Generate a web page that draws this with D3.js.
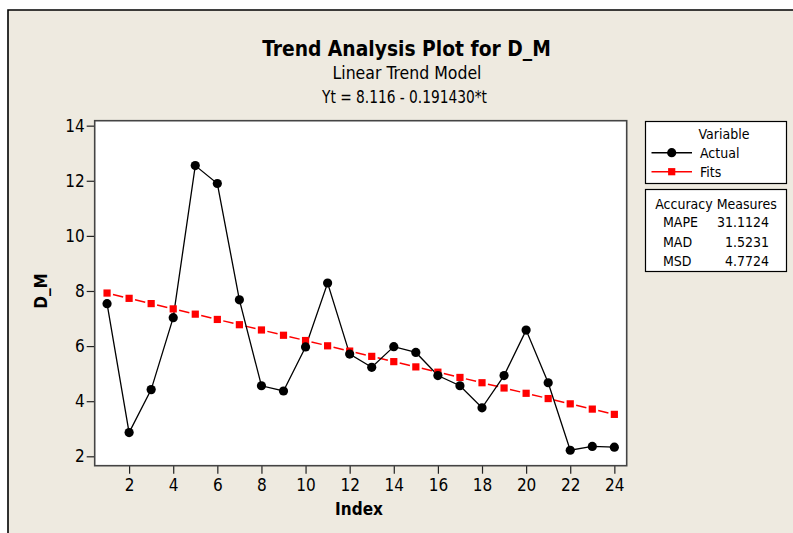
<!DOCTYPE html>
<html>
<head>
<meta charset="utf-8">
<script src="https://cdn.jsdelivr.net/npm/d3@7"></script>
<style>
html,body{margin:0;padding:0;background:#fff;}
svg{display:block;}
text{font-family:"DejaVu Sans Condensed","DejaVu Sans",sans-serif;fill:#000;}
</style>
</head>
<body>
<svg id="chart" width="793" height="533"></svg>
<script>
const indexValues = [1,2,3,4,5,6,7,8,9,10,11,12,13,14,15,16,17,18,19,20,21,22,23,24];
const actualValues = [7.54,2.86,4.42,7.03,12.55,11.9,7.68,4.56,4.37,5.97,8.29,5.71,5.23,5.98,5.77,4.93,4.56,3.76,4.93,6.58,4.67,2.22,2.36,2.33];
const fitsValues = [7.925,7.733,7.542,7.350,7.159,6.967,6.776,6.585,6.393,6.202,6.010,5.819,5.627,5.436,5.245,5.053,4.862,4.670,4.479,4.287,4.096,3.904,3.713,3.522];
const xTickValues = [2,4,6,8,10,12,14,16,18,20,22,24];
const yTickValues = [2,4,6,8,10,12,14];
const seriesNames = ["Actual","Fits"];
const measureNames = ["MAPE","MAD","MSD"];
const measureValues = ["31.1124","1.5231","4.7724"];
const titleText = "Trend Analysis Plot for D_M";
const subtitleText = "Linear Trend Model";
const equationText = "Yt = 8.116 - 0.191430*t";

const svg = d3.select("#chart");
const W = 793, H = 533;
const bg = "#EEEAE0";

// outer background and frame
svg.append("rect").attr("x",0).attr("y",0).attr("width",W).attr("height",H).attr("fill","#fff");
svg.append("rect").attr("x",8).attr("y",10).attr("width",W-8).attr("height",H-10).attr("fill",bg);
svg.append("path").attr("d",`M8,${H} V10 H${W}`).attr("fill","none").attr("stroke","#000").attr("stroke-width",1.6);

const L = 94.7, T = 120.7, R = 626.7, B = 465.7;
const x = d3.scaleLinear().domain([0.44, 24.56]).range([L, R]);
const y = d3.scaleLinear().domain([1.659, 14.18]).range([B, T]);

svg.append("rect").attr("x",L).attr("y",T).attr("width",R-L).attr("height",B-T).attr("fill","#fff");

// axes
const xAxis = d3.axisBottom(x).tickValues(xTickValues).tickSize(8).tickPadding(5).tickFormat(d3.format("d"));
const yAxis = d3.axisLeft(y).tickValues(yTickValues).tickSize(8).tickPadding(2).tickFormat(d3.format("d"));
const gx = svg.append("g").attr("transform",`translate(0,${B})`).call(xAxis);
const gy = svg.append("g").attr("transform",`translate(${L},0)`).call(yAxis);
[gx,gy].forEach(g=>{
  g.select(".domain").remove();
  g.selectAll(".tick line").attr("stroke","#222").attr("stroke-width",1.2);
  g.selectAll(".tick text").attr("font-size",17).attr("font-family","DejaVu Sans Condensed, DejaVu Sans, sans-serif").attr("fill","#000");
});

// frame of plot area
svg.append("rect").attr("x",L).attr("y",T).attr("width",R-L).attr("height",B-T)
  .attr("fill","none").attr("stroke","#444").attr("stroke-width",1.6);

// fits line (dashed, dash centred between markers)
const fitPts = indexValues.map((t,i)=>[x(t), y(fitsValues[i])]);
const fitG = svg.append("g");
for (let i=0;i<fitPts.length-1;i++){
  const [x1,y1]=fitPts[i],[x2,y2]=fitPts[i+1];
  const len=Math.hypot(x2-x1,y2-y1);
  const dash=10.5;
  fitG.append("line").attr("x1",x1).attr("y1",y1).attr("x2",x2).attr("y2",y2)
    .attr("stroke","#FF0000").attr("stroke-width",1.5)
    .attr("stroke-dasharray",`0,${(len-dash)/2},${dash},${len}`);
}
// actual line
const line = d3.line().x(d=>x(d[0])).y(d=>y(d[1]));
svg.append("path").datum(indexValues.map((t,i)=>[t,actualValues[i]]))
  .attr("d",line).attr("fill","none").attr("stroke","#000").attr("stroke-width",1.3);

// fits markers
svg.append("g").selectAll("rect").data(indexValues).join("rect")
  .attr("x",(t)=>x(t)-3.6).attr("y",(t,i)=>y(fitsValues[i])-3.6)
  .attr("width",7.2).attr("height",7.2).attr("fill","#FF0000");
// actual markers
svg.append("g").selectAll("circle").data(indexValues).join("circle")
  .attr("cx",t=>x(t)).attr("cy",(t,i)=>y(actualValues[i])).attr("r",4.6).attr("fill","#000");

// titles
svg.append("text").attr("x",406.5).attr("y",56).attr("text-anchor","middle")
  .attr("font-size",20.8).attr("font-weight","bold").text(titleText);
svg.append("text").attr("x",407).attr("y",79).attr("text-anchor","middle")
  .attr("font-size",17.5).text(subtitleText);
svg.append("text").attr("x",404.5).attr("y",103).attr("text-anchor","middle")
  .attr("font-size",17).attr("textLength",165).attr("lengthAdjust","spacingAndGlyphs").text(equationText);

// axis titles
svg.append("text").attr("x",359).attr("y",515).attr("text-anchor","middle")
  .attr("font-size",17).attr("font-weight","bold").text("Index");
svg.append("text").attr("transform","translate(47,291) rotate(-90)").attr("text-anchor","middle")
  .attr("font-size",17).attr("font-weight","bold").text("D_M");

// legend
const lg = svg.append("g");
lg.append("rect").attr("x",645.5).attr("y",121.5).attr("width",141).attr("height",62)
  .attr("fill","#fff").attr("stroke","#000").attr("stroke-width",1.2);
lg.append("text").attr("x",724).attr("y",139).attr("text-anchor","middle").attr("font-size",14).text("Variable");
const legY = [152.7, 171.7];
seriesNames.forEach((name,i)=>{
  const yy = legY[i];
  lg.append("line").attr("x1",651.5).attr("x2",692).attr("y1",yy).attr("y2",yy)
    .attr("stroke", i===0?"#000":"#FF0000").attr("stroke-width",1.4);
  if(i===0) lg.append("circle").attr("cx",671.7).attr("cy",yy).attr("r",4.6).attr("fill","#000");
  else lg.append("rect").attr("x",671.7-3.6).attr("y",yy-3.6).attr("width",7.2).attr("height",7.2).attr("fill","#FF0000");
  lg.append("text").attr("x",700).attr("y",yy+5).attr("font-size",14).text(name);
});

// accuracy box
const ag = svg.append("g");
ag.append("rect").attr("x",645.5).attr("y",189.5).attr("width",141).attr("height",82)
  .attr("fill","#fff").attr("stroke","#000").attr("stroke-width",1.2);
ag.append("text").attr("x",716).attr("y",209).attr("text-anchor","middle").attr("font-size",14).text("Accuracy Measures");
const accY = [227, 247, 266];
measureNames.forEach((m,i)=>{
  ag.append("text").attr("x",663).attr("y",accY[i]).attr("font-size",14).text(m);
  ag.append("text").attr("x",769).attr("y",accY[i]).attr("text-anchor","end").attr("font-size",14).text(measureValues[i]);
});
</script>
</body>
</html>
